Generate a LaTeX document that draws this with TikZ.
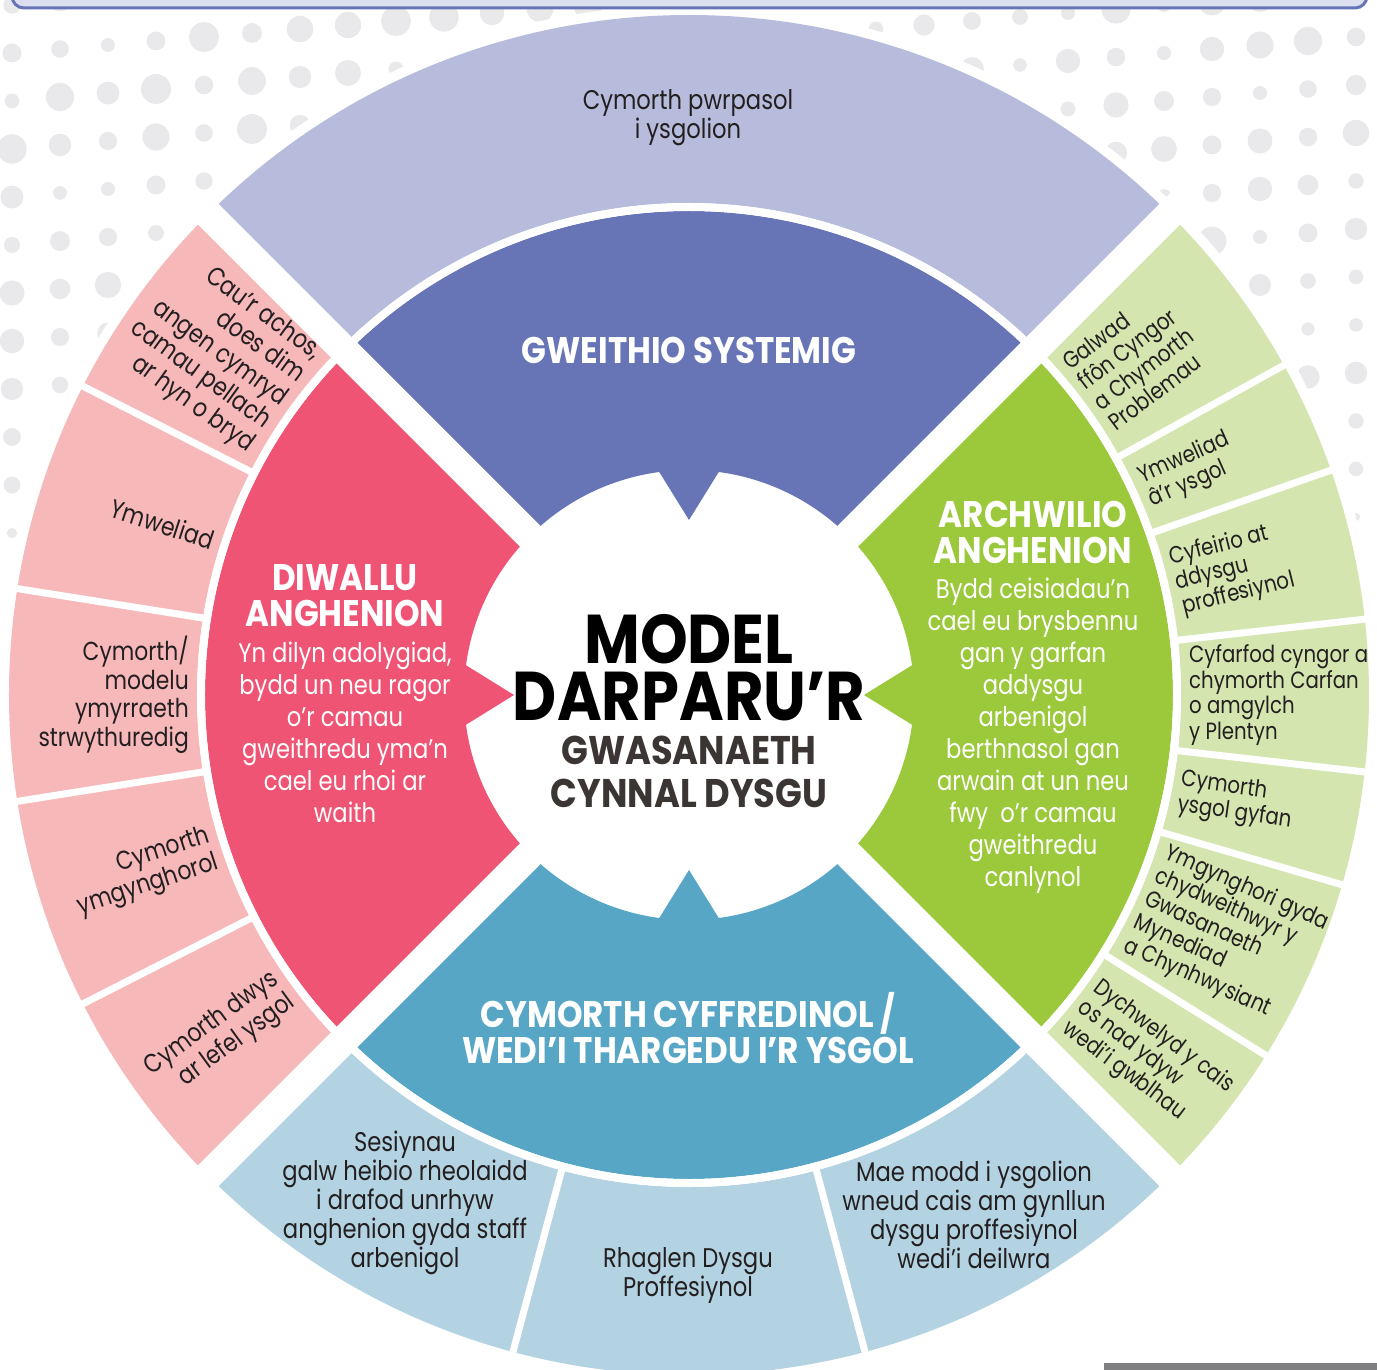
\documentclass[tikz,border=0pt]{standalone}
\usepackage{fontspec}
\setmainfont{Poppins}
\newfontfamily\segfont{Poppins}[FakeStretch=0.84]
\newfontfamily\headfont{Poppins}[FakeStretch=0.88]
\usetikzlibrary{positioning}
\definecolor{sysblue}{HTML}{6775B7}
\definecolor{syslight}{HTML}{B8BCDC}
\definecolor{meetpink}{HTML}{EF5474}
\definecolor{meetlight}{HTML}{F7B8BA}
\definecolor{explgreen}{HTML}{9BC93B}
\definecolor{expllight}{HTML}{D5E5AF}
\definecolor{suppteal}{HTML}{57A6C6}
\definecolor{supplight}{HTML}{B3D3E2}
\definecolor{dotgray}{HTML}{E9E9EB}
\definecolor{inkdark}{HTML}{231F20}
\definecolor{titlegray}{HTML}{3B3634}
\definecolor{framefill}{HTML}{DCDFF0}
\definecolor{bargray}{HTML}{808083}

\begin{document}
\begin{tikzpicture}[x = 1pt, y = 1pt]
  \tikzset{OuterText/.style  = {font       = \segfont\fontsize{27}{29}\selectfont,
                                text       = inkdark,
                                align      = center,
                                inner sep  = 0pt}}
  \tikzset{PinkSeg/.style    = {OuterText,
                                font       = \segfont\fontsize{26}{28.5}\selectfont,
                                anchor     = east,
                                align      = right}}
  \tikzset{GreenSeg/.style   = {OuterText,
                                font       = \segfont\fontsize{23.5}{25.5}\selectfont,
                                anchor     = west,
                                align      = left}}
  \tikzset{HeadStyle/.style  = {font       = \headfont\bfseries\fontsize{37}{36}\selectfont,
                                text       = white,
                                align      = center,
                                inner sep  = 0pt}}
  \tikzset{BodyStyle/.style  = {font       = \segfont\fontsize{27}{32}\selectfont,
                                text       = white,
                                align      = center,
                                inner sep  = 0pt}}
  \tikzset{TitleStyle/.style = {font       = \headfont\bfseries\fontsize{69}{57}\selectfont,
                                text       = black,
                                align      = center,
                                inner sep  = 0pt}}
  \tikzset{SubStyle/.style   = {font       = \headfont\bfseries\fontsize{40}{43}\selectfont,
                                text       = titlegray,
                                align      = center,
                                inner sep  = 0pt}}
  \tikzset{GapStyle/.style   = {white,
                                line width = 29pt}}
  \tikzset{SepStyle/.style   = {white,
                                line width = 7pt}}
  \useasboundingbox (-689,-674) rectangle (688,695);
  \clip (-689,-674) rectangle (688,695);
  % halftone dots behind the wheel
  \pgfmathsetseed{42}
  \foreach \i in {0,...,29}{
    \foreach \j in {0,...,20}{
      \pgfmathsetmacro{\dx}{-677+48*\i}
      \pgfmathsetmacro{\dy}{690-48*\j+4*\i}
      \pgfmathsetmacro{\dr}{15*max(0,min(1,(40+\dy)/420))*(0.45+0.55*rnd)}
      \ifdim\dr pt>1.5pt \fill[dotgray] (\dx,\dy) circle (\dr); \fi
    }
  }
  \fill[white] (0,0) circle (690);
  \draw[sysblue, line width = 3pt, fill = framefill, rounded corners = 12pt]
    (-677,760) rectangle (678,687);
  \fill[bargray] (415,-668) rectangle (688,-680);
  % outer ring
  \foreach \mid/\col in {90/syslight, 180/meetlight, 0/expllight, 270/supplight}{
    \fill[\col] ({\mid-45}:492) arc[start angle = \mid-45, end angle = \mid+45, radius = 492]
      -- ({\mid+45}:680) arc[start angle = \mid+45, end angle = \mid-45, radius = 680] -- cycle;
  }
  % inner ring with pointers
  \foreach \mid/\col in {90/sysblue, 180/meetpink, 0/explgreen, 270/suppteal}{
    \fill[\col] ({\mid-45}:225) arc[start angle = \mid-45, end angle = \mid-7.6, radius = 225]
      -- (\mid:175) -- ({\mid+7.6}:225)
      arc[start angle = \mid+7.6, end angle = \mid+45, radius = 225]
      -- ({\mid+45}:484) arc[start angle = \mid+45, end angle = \mid-45, radius = 484] -- cycle;
  }
  \draw[white, line width = 8pt] (0,0) circle (488);
  \foreach \a in {45,135,225,315}
    \draw[GapStyle] (0,0) -- (\a:700);
  \foreach \a in {153,171,189,207,29,19.3,6.4,-6.5,-16.2,-32,255,285}
    \draw[SepStyle] (\a:486) -- (\a:686);

  % centre
  \node[TitleStyle] (modelTitle) at (0,27) {MODEL\\DARPARU’R};
  \node[SubStyle, below = 14pt of modelTitle] (serviceTitle) {GWASANAETH\\CYNNAL DYSGU};

  % inner ring labels
  \node[HeadStyle] (sysHead) at (0,345) {GWEITHIO SYSTEMIG};
  \node[HeadStyle] (meetHead) at (-344,99) {DIWALLU\\ANGHENION};
  \node[BodyStyle, below = 14pt of meetHead] (meetBody)
    {Yn dilyn adolygiad,\\bydd un neu ragor\\o’r camau\\gweithredu yma’n\\cael eu rhoi ar\\waith};
  \node[HeadStyle] (explHead) at (344,163) {ARCHWILIO\\ANGHENION};
  \node[BodyStyle, below = 14pt of explHead] (explBody)
    {Bydd ceisiadau’n\\cael eu brysbennu\\gan y garfan\\addysgu\\arbenigol\\berthnasol gan\\arwain at un neu\\fwy~ o’r camau\\gweithredu\\canlynol};
  \node[HeadStyle] (suppHead) at (-1,-333) {CYMORTH CYFFREDINOL /\\WEDI’I THARGEDU I’R YSGOL};

  % outer ring labels
  \node[OuterText] (tailoredSupport) at (-1,577) {Cymorth pwrpasol\\i ysgolion};

  \node[PinkSeg, rotate = -36] (closeCase) at (144:500)
    {Cau’r achos,\\does dim\\angen cymryd\\camau pellach\\ar hyn o bryd};
  \node[PinkSeg, rotate = -18] (meetVisit) at (162:500) {Ymweliad};
  \node[PinkSeg] (modelling) at (180:500)
    {Cymorth/\\modelu\\ymyrraeth\\strwythuredig};
  \node[PinkSeg, rotate = 18] (advisory) at (198:500) {Cymorth\\ymgynghorol};
  \node[PinkSeg, rotate = 36] (intensive) at (216:500) {Cymorth dwys\\ar lefel ysgol};

  \node[GreenSeg, rotate = 37] (phoneCall) at (37:500)
    {Galwad\\ffôn Cyngor\\a Chymorth\\Problemau};
  \node[GreenSeg, rotate = 24] (schoolVisit) at (24.2:500) {Ymweliad\\â’r ysgol};
  \node[GreenSeg, rotate = 14] (referral) at (12.9:500)
    {Cyfeirio at\\ddysgu\\proffesiynol};
  \node[GreenSeg] (teamMeeting) at (0:500)
    {Cyfarfod cyngor a\\chymorth Carfan\\o amgylch\\y Plentyn};
  \node[GreenSeg, rotate = -8] (wholeSchool) at (-11.3:500) {Cymorth\\ysgol gyfan};
  \node[GreenSeg, rotate = -24] (consult) at (-24.1:500)
    {Ymgynghori gyda\\chydweithwyr y\\Gwasanaeth\\Mynediad\\a Chynhwysiant};
  \node[GreenSeg, rotate = -37] (returnReq) at (-38.5:500)
    {Dychwelyd y cais\\os nad ydyw\\wedi’i gwblhau};

  \node[OuterText] (dropIn) at (-284,-508)
    {Sesiynau\\galw heibio rheolaidd\\i drafod unrhyw\\anghenion gyda staff\\arbenigol};
  \node[OuterText] (profProg) at (-1,-580) {Rhaglen Dysgu\\Proffesiynol};
  \node[OuterText] (bespokePlan) at (285,-520)
    {Mae modd i ysgolion\\wneud cais am gynllun\\dysgu proffesiynol\\wedi’i deilwra};
\end{tikzpicture}
\end{document}
